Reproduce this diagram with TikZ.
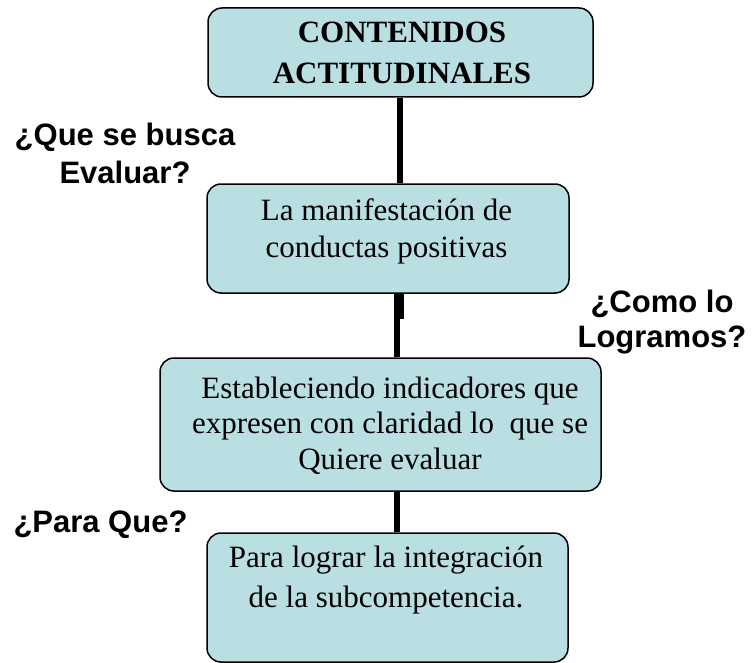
\documentclass[tikz,border=0pt]{standalone}
\usepackage{fontspec}
\setmainfont{Liberation Serif}
\newfontfamily\labfont{Liberation Sans}
\usetikzlibrary{calc}
\definecolor{boxfill}{RGB}{185,223,227}
\begin{document}
\begin{tikzpicture}[x=1pt,y=-1pt,
  box/.style={draw=black,line width=1.5pt,fill=boxfill,rounded corners=14pt,inner sep=0pt},
  boxtext/.style={inner sep=0pt,align=center,font=\fontsize{31}{#1}\selectfont},
  boldtext/.style={inner sep=0pt,align=center,font=\bfseries\fontsize{31}{#1}\selectfont},
  qlabel/.style={inner sep=0pt,align=center,font=\labfont\bfseries\fontsize{31}{#1}\selectfont},
  conn/.style={draw=black,line width=6pt,line cap=butt}]
\useasboundingbox (0,0) rectangle (754,663);
% boxes
\node[box,minimum width=385pt,minimum height=89pt] (b1) at (400.5,52.5) {};
\node[box,minimum width=362pt,minimum height=109pt] (b2) at (388,238.5) {};
\node[box,minimum width=441pt,minimum height=133pt] (b3) at (380.5,424.5) {};
\node[box,minimum width=361pt,minimum height=129pt] (b4) at (387.5,597.5) {};
% box texts
\node[boldtext=41] (t1) at (402,52.5) {CONTENIDOS\\ACTITUDINALES};
\node[boxtext=37] (t2) at (386.5,231.3) {La manifestación de\\conductas positivas};
\node[boxtext=35.5] (t3) at (390,425.4) {Estableciendo indicadores que\\expresen con claridad lo\ \ que se\\Quiere evaluar};
\node[boxtext=40] (t4) at (386,579.9) {Para lograr la integración\\de la subcompetencia.};
% connectors
\draw[conn] ($(b1.south)+(-0.5,0)$) -- ($(b2.north)+(12,0)$);
\draw[conn] ($(b2.south)+(9,0)$) -- ($(b3.north)+(16.5,0)$);
\draw[conn] ($(b2.south)+(13,0)$) -- ($(b2.south)+(13,25)$);
\draw[conn] ($(b3.south)+(16,0)$) -- ($(b4.north)+(9,0)$);
% question labels
\node[qlabel=38] (q1) at (125,153.7) {¿Que se busca\\Evaluar?};
\node[qlabel=35] (q2) at (662,322.5) {¿Como lo\\Logramos?};
\node[qlabel=35,anchor=base] (q3) at (100.5,532) {¿Para Que?};
\end{tikzpicture}
\end{document}
